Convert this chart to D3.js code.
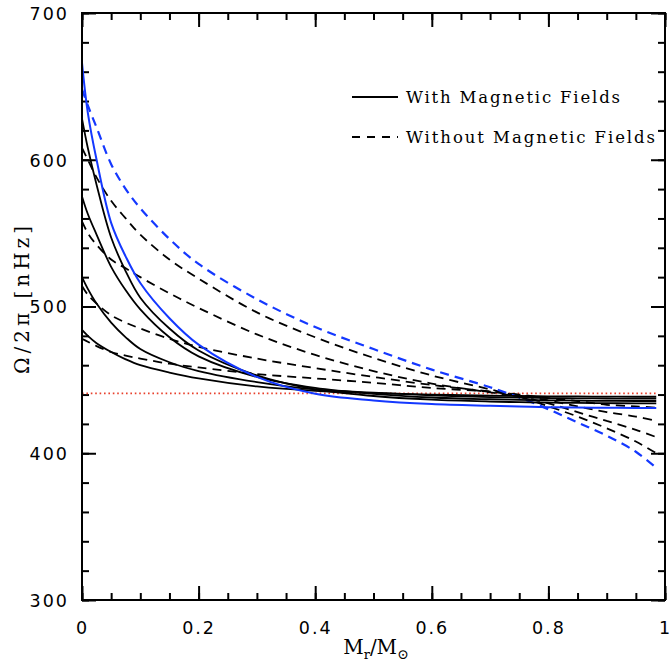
<!DOCTYPE html>
<html>
<head>
<meta charset="utf-8">
<script src="https://cdn.jsdelivr.net/npm/d3@7"></script>
<style>
  body { margin: 0; background: #fff; }
</style>
</head>
<body>
<svg id="chart" width="672" height="666"></svg>
<script>
// sample points along M_r/M_sun
const massFrac = [0, 0.01, 0.025, 0.05, 0.075, 0.1, 0.15, 0.2, 0.3, 0.4, 0.5, 0.6, 0.7, 0.75, 0.8, 0.85, 0.9, 0.95, 0.985];

// Omega/2pi in nHz, with magnetic fields (solid)
const withFieldBlue = [666, 632, 600, 557, 534, 516, 492, 474, 452, 440.5, 436, 433.5, 432.3, 431.8, 431.4, 431.2, 431, 430.9, 430.8];
const withField1 = [628, 608, 583, 547, 524, 506, 485, 470, 453, 443.5, 439, 436.5, 435.2, 434.8, 434.5, 434.3, 434.1, 434, 434];
const withField2 = [575, 563, 549, 527, 511, 498, 479, 466, 452, 444.5, 440.5, 438, 436.8, 436.4, 436, 435.8, 435.7, 435.6, 435.6];
const withField3 = [520, 512, 502, 489, 479, 471, 462, 456, 448.5, 443.5, 441.3, 439.5, 438.3, 437.9, 437.6, 437.4, 437.3, 437.2, 437.2];
const withField4 = [484, 480, 475, 469, 464, 460, 455, 451, 445.5, 442.5, 441, 440, 439.3, 439, 438.8, 438.7, 438.6, 438.5, 438.5];

// without magnetic fields (dashed)
const noFieldBlue = [648, 637, 622, 597, 580, 567, 546, 529, 505, 486, 471, 457, 445, 438, 430, 421, 412, 401, 390];
const noField1 = [608, 600, 588, 572, 560, 549, 532, 519, 496, 479, 465, 453, 443.5, 438.5, 432, 425, 417, 408, 400];
const noField2 = [558, 550, 542, 532, 526, 520, 509, 499, 481, 467, 456, 447.5, 441.5, 438.5, 434, 428, 422, 416, 411];
const noField3 = [514, 508, 502, 494, 489, 485, 478, 472.5, 464.5, 458, 452, 446.5, 442, 439.5, 436, 432, 428, 425, 422];
const noField4 = [478, 476, 473, 469, 466.5, 464.5, 461, 458.5, 454, 451, 448, 444.5, 442, 440, 437.5, 435.5, 433, 432, 431];

// reference rate (dotted)
const refRate = 440.8;
const refRange = [0, 0.985];

const xTicks = [0, 0.2, 0.4, 0.6, 0.8, 1];
const xTickLabels = ["0", "0.2", "0.4", "0.6", "0.8", "1"];
const yTicks = [300, 400, 500, 600, 700];
const legendLabels = ["With Magnetic Fields", "Without Magnetic Fields"];

const svg = d3.select("#chart");
const plotLeft = 82, plotTop = 13, plotRight = 665, plotBottom = 600;

const x = d3.scaleLinear().domain([0, 1]).range([plotLeft, plotRight]);
const y = d3.scaleLinear().domain([300, 700]).range([plotBottom, plotTop]);

const tickFont = "DejaVu Sans, sans-serif";

// minor ticks on all four sides
const xMinor = d3.range(0, 1.0001, 0.05);
const yMinor = d3.range(300, 700.1, 20);

function styleAxis(g) {
    g.select(".domain").remove();
    g.selectAll(".tick line").attr("stroke", "#000").attr("stroke-width", 2);
}

svg.append("g").attr("transform", `translate(0,${plotBottom})`)
    .call(d3.axisBottom(x).tickValues(xMinor).tickSize(-7).tickFormat(""))
    .call(styleAxis);
svg.append("g").attr("transform", `translate(0,${plotTop})`)
    .call(d3.axisTop(x).tickValues(xMinor).tickSize(-7).tickFormat(""))
    .call(styleAxis);
svg.append("g").attr("transform", `translate(${plotLeft},0)`)
    .call(d3.axisLeft(y).tickValues(yMinor).tickSize(-7).tickFormat(""))
    .call(styleAxis);
svg.append("g").attr("transform", `translate(${plotRight},0)`)
    .call(d3.axisRight(y).tickValues(yMinor).tickSize(-7).tickFormat(""))
    .call(styleAxis);

// major ticks
const xAxis = svg.append("g").attr("transform", `translate(0,${plotBottom})`)
    .call(d3.axisBottom(x).tickValues(xTicks).tickSize(-14).tickPadding(22)
        .tickFormat((d, i) => xTickLabels[i]))
    .call(styleAxis);
svg.append("g").attr("transform", `translate(0,${plotTop})`)
    .call(d3.axisTop(x).tickValues(xTicks).tickSize(-14).tickFormat(""))
    .call(styleAxis);
const yAxis = svg.append("g").attr("transform", `translate(${plotLeft},0)`)
    .call(d3.axisLeft(y).tickValues(yTicks).tickSize(-14).tickPadding(13).tickFormat(d3.format("d")))
    .call(styleAxis);
svg.append("g").attr("transform", `translate(${plotRight},0)`)
    .call(d3.axisRight(y).tickValues(yTicks).tickSize(-14).tickFormat(""))
    .call(styleAxis);

[xAxis, yAxis].forEach(g => g.selectAll(".tick text")
    .attr("fill", "#000")
    .style("font-family", tickFont)
    .style("font-size", "17.5px")
    .style("letter-spacing", "2px"));
yAxis.selectAll(".tick text").attr("dy", "0.36em");

// clip so nothing spills past the frame
svg.append("clipPath").attr("id", "plotClip")
    .append("rect").attr("x", plotLeft).attr("y", plotTop)
    .attr("width", plotRight - plotLeft).attr("height", plotBottom - plotTop);

const plot = svg.append("g").attr("clip-path", "url(#plotClip)");

// reference line
plot.append("line")
    .attr("x1", x(refRange[0])).attr("x2", x(refRange[1]))
    .attr("y1", y(refRate)).attr("y2", y(refRate))
    .attr("stroke", "#e8402c")
    .attr("stroke-width", 1.6)
    .attr("stroke-dasharray", "1.6,2.8");

const line = d3.line()
    .x((d, i) => x(massFrac[i]))
    .y(d => y(d))
    .curve(d3.curveCatmullRom.alpha(0.5));

const dashedSeries = [noField4, noField3, noField2, noField1];
dashedSeries.forEach(s => {
    plot.append("path").attr("d", line(s))
        .attr("fill", "none").attr("stroke", "#000")
        .attr("stroke-width", 1.8).attr("stroke-dasharray", "9,6");
});
plot.append("path").attr("d", line(noFieldBlue))
    .attr("fill", "none").attr("stroke", "#1438ff")
    .attr("stroke-width", 2.2).attr("stroke-dasharray", "9,6");

const solidSeries = [withField4, withField3, withField2, withField1];
solidSeries.forEach(s => {
    plot.append("path").attr("d", line(s))
        .attr("fill", "none").attr("stroke", "#000")
        .attr("stroke-width", 1.8);
});
plot.append("path").attr("d", line(withFieldBlue))
    .attr("fill", "none").attr("stroke", "#1438ff")
    .attr("stroke-width", 2);

// frame
svg.append("rect")
    .attr("x", plotLeft).attr("y", plotTop)
    .attr("width", plotRight - plotLeft).attr("height", plotBottom - plotTop)
    .attr("fill", "none").attr("stroke", "#000").attr("stroke-width", 2);

// legend
const legend = svg.append("g");
const legendRows = [{ y: 97, dash: null, w: 214 }, { y: 137, dash: "8,7", w: 249 }];
legendRows.forEach((r, i) => {
    legend.append("line")
        .attr("x1", 352).attr("x2", 398)
        .attr("y1", r.y).attr("y2", r.y)
        .attr("stroke", "#000").attr("stroke-width", 1.8)
        .attr("stroke-dasharray", r.dash);
    legend.append("text")
        .attr("x", 406).attr("y", r.y + 6)
        .attr("textLength", r.w).attr("lengthAdjust", "spacing")
        .style("font-family", "DejaVu Serif, serif")
        .style("font-size", "16.5px")
        .text(legendLabels[i]);
});

// axis titles
const xTitle = svg.append("text")
    .attr("x", 376).attr("y", 654)
    .attr("text-anchor", "middle")
    .style("font-family", "DejaVu Serif, serif")
    .style("font-size", "20px");
xTitle.append("tspan").text("M");
xTitle.append("tspan").attr("dy", 5).style("font-size", "13px").text("r");
xTitle.append("tspan").attr("dy", -5).text("/M");
xTitle.append("tspan").attr("dy", 5).style("font-size", "14px").text("⊙");

svg.append("text")
    .attr("transform", "translate(29,300) rotate(-90)")
    .attr("text-anchor", "middle")
    .attr("textLength", 148).attr("lengthAdjust", "spacing")
    .style("font-family", "DejaVu Serif, serif")
    .style("font-size", "20px")
    .text("Ω/2π [nHz]");
</script>
</body>
</html>
